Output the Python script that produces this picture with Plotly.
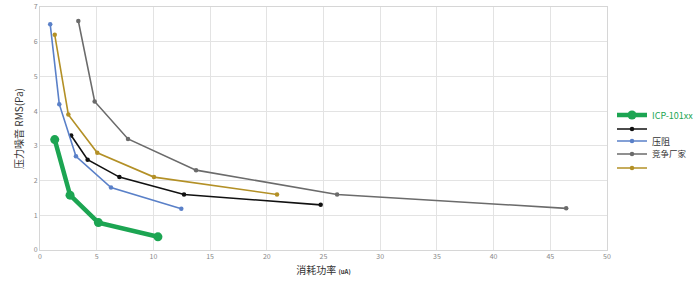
import plotly.graph_objects as go

names = ["ICP-101xx", " ", "压阻", "竞争厂家", "  "]
colors = ["#1ca552", "#111111", "#5a80c8", "#6b6b6b", "#b39026"]
name_colors = ["#1ca552", "#333333", "#333333", "#333333", "#333333"]

green_x = [1.3, 2.65, 5.15, 10.4]
green_y = [3.18, 1.58, 0.79, 0.38]
black_x = [2.75, 4.2, 7.0, 12.7, 24.75]
black_y = [3.3, 2.6, 2.1, 1.6, 1.3]
blue_x = [0.9, 1.7, 3.17, 6.26, 12.46]
blue_y = [6.5, 4.2, 2.7, 1.8, 1.19]
gray_x = [3.38, 4.82, 7.76, 13.76, 26.2, 46.4]
gray_y = [6.6, 4.28, 3.2, 2.3, 1.6, 1.2]
gold_x = [1.3, 2.5, 5.05, 10.05, 20.9]
gold_y = [6.2, 3.9, 2.8, 2.1, 1.6]

xs = [green_x, black_x, blue_x, gray_x, gold_x]
ys = [green_y, black_y, blue_y, gray_y, gold_y]

x_ticks = [0, 5, 10, 15, 20, 25, 30, 35, 40, 45, 50]
y_ticks = [0, 1, 2, 3, 4, 5, 6, 7]

W, H = 700, 291
legend_px_y = [115, 129, 141, 154, 168]

fig = go.Figure()
layout_legends = {}
for i in range(5):
    big = i == 0
    lname = "legend" if i == 0 else f"legend{i+1}"
    fig.add_trace(go.Scatter(
        x=xs[i], y=ys[i], name=names[i], mode="lines+markers",
        line=dict(color=colors[i], width=4.5 if big else 1.6),
        marker=dict(color=colors[i], size=9 if big else 4.5),
        legend=lname, showlegend=True,
    ))
    layout_legends[lname] = dict(
        xref="container", yref="container",
        x=612 / W, y=1 - legend_px_y[i] / H,
        xanchor="left", yanchor="middle",
        font=dict(size=9 if i != 3 else 8.5, color=name_colors[i]),
        bgcolor="rgba(0,0,0,0)", itemwidth=30,
    )

fig.update_layout(
    width=W, height=H, showlegend=True,
    margin=dict(l=40, r=93, t=7, b=41, autoexpand=False),
    paper_bgcolor="white", plot_bgcolor="white",
    font=dict(family="Noto Sans CJK SC, Noto Sans, sans-serif", color="#444"),
    xaxis=dict(range=[0, 50], tickvals=x_ticks, showgrid=True,
               gridcolor="#e3e3e3", gridwidth=1, zeroline=False,
               showline=True, linecolor="#d6d6d6", mirror=True,
               automargin=False,
               tickfont=dict(size=7, color="#888"), ticks="",
               title=dict(text="消耗功率 <span style='font-size:6px'><b>(uA)</b></span>",
                          font=dict(size=10, color="#333"), standoff=6)),
    yaxis=dict(range=[0, 7], tickvals=y_ticks, showgrid=True,
               gridcolor="#e3e3e3", gridwidth=1, zeroline=False,
               showline=True, linecolor="#d6d6d6", mirror=True,
               automargin=False,
               tickfont=dict(size=7, color="#888"), ticks="",
               title=dict(text="压力噪音 RMS(Pa)", font=dict(size=10, color="#333"),
                          standoff=8)),
    **layout_legends,
)
fig.write_html("out.html")
